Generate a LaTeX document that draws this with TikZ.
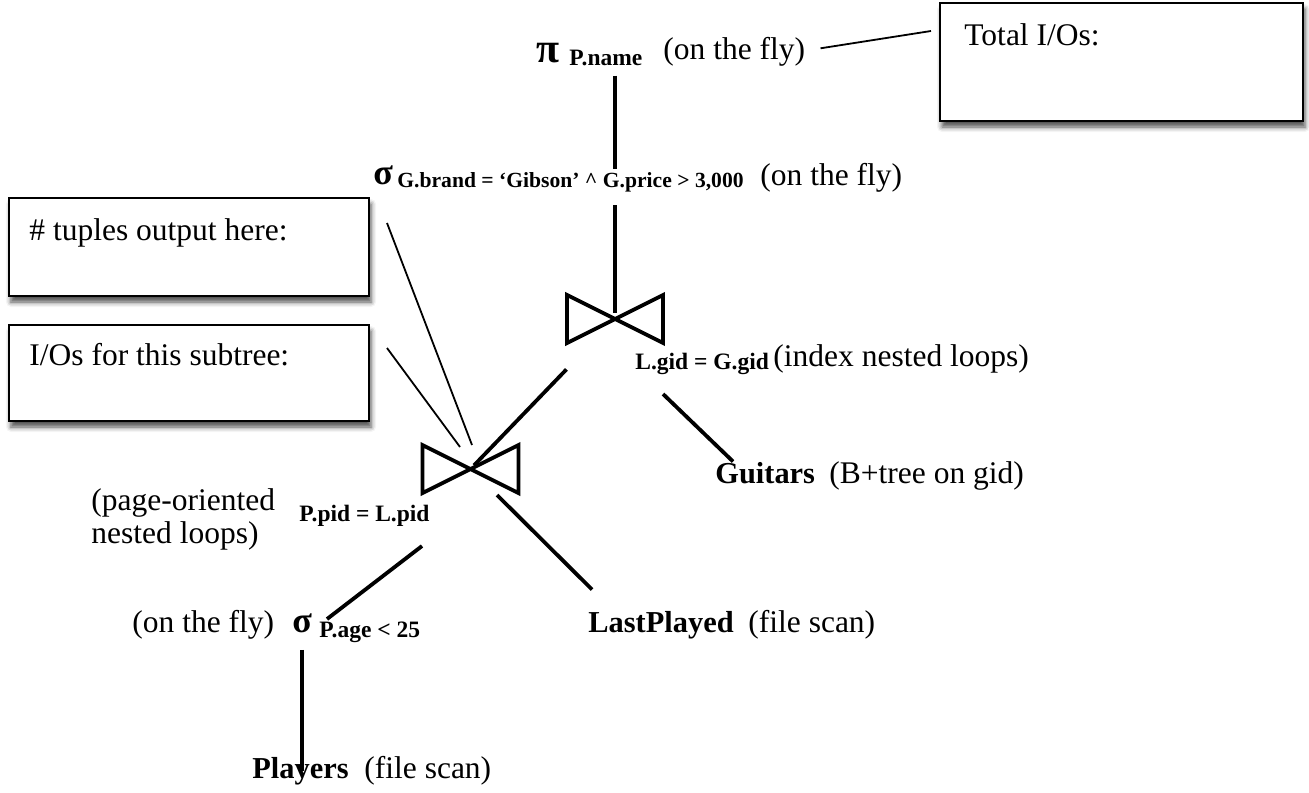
\documentclass[tikz,border=0pt]{standalone}
\usepackage{fontspec}
\setmainfont{Liberation Serif}
\usetikzlibrary{calc,shadows.blur}

\newcommand\notesize{\fontsize{15.75}{16.5}\selectfont}
\newcommand\namesize{\fontsize{15.2}{16}\selectfont\bfseries}
\newcommand\condsize{\fontsize{11.75}{12}\selectfont\bfseries}
\newcommand\longcondsize{\fontsize{10.8}{11}\selectfont\bfseries}
\newcommand\opsize{\fontsize{18}{18}\selectfont\bfseries}
\newcommand\projsize{\fontsize{21}{21}\selectfont\bfseries}

\begin{document}
\begin{tikzpicture}[x=0.5pt,y=-0.5pt,
  txt/.style={inner sep=0pt, anchor=base west},
  note/.style={txt, font=\notesize},
  relname/.style={txt, font=\namesize},
  cond/.style={txt, font=\condsize},
  opsym/.style={txt, font=\opsize},
  treeline/.style={line width=1.9pt},
  leader/.style={line width=0.9pt},
  notebox/.style={draw, line width=1pt, fill=white, anchor=north west, inner sep=0pt,
    blur shadow={shadow xshift=1pt, shadow yshift=-3pt, shadow blur radius=2.5pt, shadow opacity=70}},
  bowtie/.pic={\draw[treeline, line join=miter] (-48,-24) -- (-48,24) -- (48,-24) -- (48,24) -- cycle;}
]
\useasboundingbox (0,0) rectangle (1309,792);

% annotation boxes
\node[notebox, minimum width=180pt, minimum height=49pt] (tuplesbox) at (8,197) {};
\node[note] (tuplestext) at (29,240) {\# tuples output here:};
\node[notebox, minimum width=180pt, minimum height=48pt] (iobox) at (8,324) {};
\node[note] (iotext) at (29,365) {I/Os for this subtree:};
\node[notebox, minimum width=181.5pt, minimum height=59pt] (totalbox) at (939,2) {};
\node[note] (totaltext) at (964,46) {Total I/Os:};

% projection
\node[txt, font=\projsize] (proj) at (536,62) {π};
\node[cond] (projcond) at (569,66) {P.name};
\node[note] (projnote) at (663,60) {(on the fly)};

% selection on guitars
\node[opsym] (sel1) at (373,184) {σ};
\node[txt, font=\longcondsize] (sel1cond) at (397,187) {G.brand = ‘Gibson’ \textasciicircum{} G.price > 3,000};
\node[note] (sel1note) at (760,185) {(on the fly)};

% upper join
\coordinate (join1) at (615,319);
\pic at (join1) {bowtie};
\node[cond] (join1cond) at (635,369) {L.gid = G.gid};
\node[note] (join1note) at (773,366) {(index nested loops)};

\node[relname] (guitars) at (715,483) {Guitars};
\node[note] (guitarsnote) at (829,483) {(B+tree on gid)};

% lower join
\coordinate (join2) at (470.5,469);
\pic at (join2) {bowtie};
\node[cond] (join2cond) at (299,521) {P.pid = L.pid};
\node[note] (join2note) at (91,510) {\begin{tabular}[t]{@{}l@{}}(page-oriented\\nested loops)\end{tabular}};

\node[relname] (lastplayed) at (588,632) {LastPlayed};
\node[note] (lastplayednote) at (748,632) {(file scan)};

% selection on players
\node[note] (sel2note) at (132,632) {(on the fly)};
\node[opsym] (sel2) at (292,632) {σ};
\node[cond] (sel2cond) at (319,637) {P.age < 25};

\node[relname] (players) at (252,778) {Players};
\node[note] (playersnote) at (364,778) {(file scan)};

% tree edges
\draw[treeline, shorten <=4.5pt, shorten >=1.5pt] (projcond.south -| join1) -- (sel1cond.north -| join1);
\draw[treeline, shorten <=6.5pt, shorten >=3pt] (sel1cond.south -| join1) -- (join1);
\draw[treeline, shorten <=35pt, shorten >=2.5pt] (join1) -- (join2);
\draw[treeline] ($(join1)+(48,75)$) -- ($(guitars.north west)+(18,0)$);
\draw[treeline] ($(join2)+(26.5,26)$) -- ($(lastplayed.north west)+(4,-21)$);
\draw[treeline] ($(join2)+(-48.5,77)$) -- ($(sel2cond.north west)+(8,-2)$);
\draw[treeline, shorten <=8.5pt, shorten >=3.5pt] (sel2.south) -- (sel2.south |- players.base);

% leaders from the boxes
\draw[leader] ($(projnote.east)+(15,-4)$) -- ($(totalbox.north west)+(-8,29)$);
\draw[leader] ($(tuplesbox.north east)+(17,26)$) -- ($(join2)+(1.5,-24)$);
\draw[leader] ($(iobox.north east)+(17,24)$) -- ($(join2)+(-10.5,-22)$);
\end{tikzpicture}
\end{document}
